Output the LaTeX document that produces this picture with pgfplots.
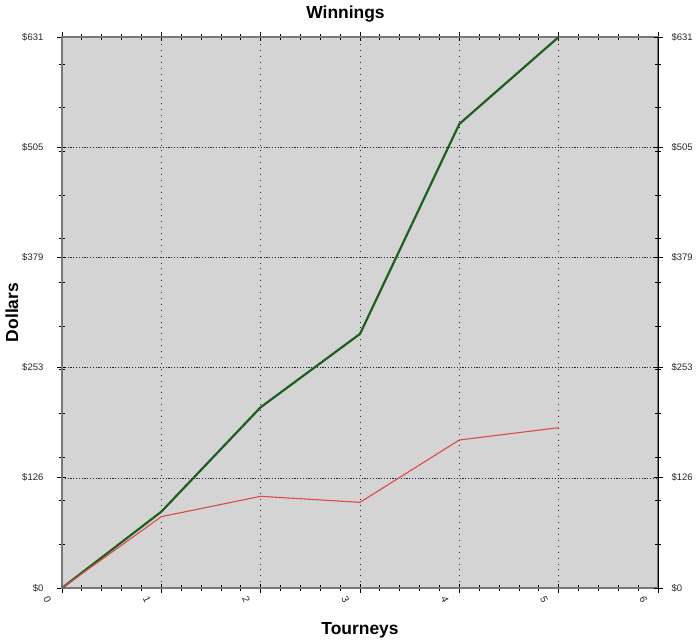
\documentclass[border=0pt]{standalone}
\usepackage{pgfplots}
\pgfplotsset{compat=1.18}
\usepackage{fontspec}
\setmainfont{Liberation Sans}
\definecolor{plotbg}{RGB}{212,212,212}
\definecolor{greenline}{RGB}{30,95,30}
\definecolor{redline}{RGB}{222,72,72}
\definecolor{axgray}{RGB}{120,120,120}
\begin{document}
\begin{tikzpicture}
\path[use as bounding box] (-62bp,-56bp) rectangle (638bp,588bp);
\begin{axis}[
  name=main,
  at={(0,0)}, anchor=south west,
  scale only axis, width=596bp, height=551bp,
  xmin=0, xmax=6, ymin=0, ymax=631,
  axis background/.style={fill=plotbg},
  axis line style={axgray, line width=1.2bp},
  xtick={0,1,2,3,4,5,6},
  xticklabels={0,1,2,3,4,5,6},
  minor x tick num=4,
  ytick={0,126.2,252.4,378.6,504.8,631},
  yticklabels={\$0,\$126,\$253,\$379,\$505,\$631},
  minor ytick={50,100,150,200,250,300,350,400,450,500,550,600},
  ytick pos=left,
  xmajorgrids, ymajorgrids,
  x grid style={black!85, dash pattern=on 0.9bp off 5bp},
  y grid style={black!85, dash pattern=on 1.2bp off 1.6bp},
  tick align=center,
  major tick length=9bp, minor tick length=6bp,
  tick style={black, line width=0.8bp},
  ticklabel style={font=\fontsize{9.5}{11}\selectfont, text=black!85},
  yticklabel style={anchor=east, inner sep=0pt, xshift=-14bp},
  xticklabel style={font=\fontsize{10}{11}\selectfont, rotate=-65, anchor=center, inner sep=0pt, yshift=-16bp},
  title={Winnings},
  every axis title/.style={font=\fontsize{17.5}{20}\selectfont\bfseries, at={(axis description cs:0.4757,1.0327)}, anchor=base},
  xlabel={Tourneys},
  xlabel style={font=\fontsize{17.5}{20}\selectfont\bfseries, at={(axis description cs:0.5,-0.0835)}, anchor=base},
  ylabel={Dollars},
  ylabel style={font=\fontsize{17.5}{20}\selectfont\bfseries, at={(axis description cs:-0.0738,0.5)}, anchor=base},
]
\addplot[greenline, line width=2.2bp] coordinates {(0,0) (1,87.4) (2,207) (3,291) (4,531.4) (5,631)};
\addplot[redline, line width=1.1bp] coordinates {(0,0) (1,81.7) (2,105) (3,98.1) (4,169.5) (5,183.6)};
\end{axis}
\begin{axis}[
  at={(0,0)}, anchor=south west,
  scale only axis, width=596bp, height=551bp,
  xmin=0, xmax=6, ymin=0, ymax=631,
  axis x line=none, axis y line*=right,
  axis line style={black, line width=1bp, -},
  ytick={0,126.2,252.4,378.6,504.8,631},
  yticklabels={\$0,\$126,\$253,\$379,\$505,\$631},
  minor ytick={50,100,150,200,250,300,350,400,450,500,550,600},
  tick align=center,
  major tick length=9bp, minor tick length=6bp,
  tick style={black, line width=0.8bp},
  ticklabel style={font=\fontsize{9.5}{11}\selectfont, text=black!85},
  yticklabel style={anchor=west, inner sep=0pt, xshift=9bp},
]
\addplot[draw=none] coordinates {(0,0)};
\end{axis}
\end{tikzpicture}
\end{document}
